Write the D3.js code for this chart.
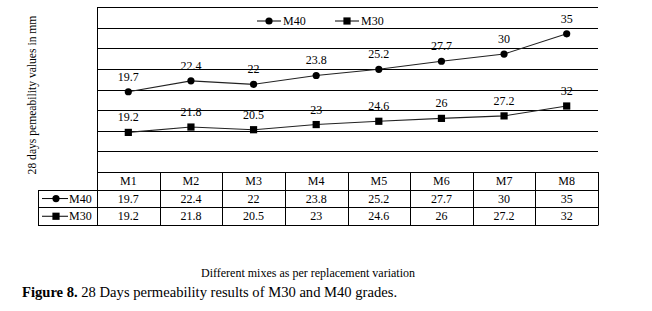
<!DOCTYPE html>
<html>
<head>
<meta charset="utf-8">
<script src="https://cdn.jsdelivr.net/npm/d3@7"></script>
<style>
  body { margin: 0; background: #fff; }
  svg { display: block; font-family: "Liberation Serif", "Times New Roman", serif; }
</style>
</head>
<body>
<div id="wrapper"></div>
<script>
const mixes = ["M1", "M2", "M3", "M4", "M5", "M6", "M7", "M8"];
const m40 = [19.7, 22.4, 22, 23.8, 25.2, 27.7, 30, 35];
const m30 = [19.2, 21.8, 20.5, 23, 24.6, 26, 27.2, 32];
const seriesNames = ["M40", "M30"];
const yTicks = [0, 10, 20, 30, 40, 50, 60, 70, 80];

function buildPlot() {
    var dimension = {
        width: 652,
        height: 311,
        margin: { top: 7, left: 97, right: 54 }
    };
    const plotBottom = 172;
    const rowH = 17.7;
    const tableLeft = 38;

    const svg = d3.select("#wrapper").append("svg")
        .attr("width", dimension.width)
        .attr("height", dimension.height);

    // rows for the stacked series (M30 at the bottom, M40 on top)
    const rows = mixes.map((m, i) => ({ mix: m, M30: m30[i], M40: m40[i] }));
    const stacked = d3.stack().keys(["M30", "M40"])(rows);

    const xScaler = d3.scaleBand()
        .domain(mixes)
        .range([dimension.margin.left, dimension.width - dimension.margin.right]);
    const yScaler = d3.scaleLinear()
        .domain([0, 80])
        .range([plotBottom, dimension.margin.top]);

    const xMid = d => xScaler(d) + xScaler.bandwidth() / 2;
    const x0 = xScaler.range()[0], x1 = xScaler.range()[1];

    // gridlines
    svg.append("g").selectAll("line")
        .data(yTicks)
        .join("line")
        .attr("x1", x0).attr("x2", x1)
        .attr("y1", d => Math.round(yScaler(d)) + 0.5)
        .attr("y2", d => Math.round(yScaler(d)) + 0.5)
        .attr("stroke", "#000");

    // left border of plot & table
    svg.append("line")
        .attr("x1", x0 + 0.5).attr("x2", x0 + 0.5)
        .attr("y1", dimension.margin.top).attr("y2", plotBottom + rowH * 3)
        .attr("stroke", "#000");

    // data table
    const table = svg.append("g");
    const rowY = i => Math.round(plotBottom + rowH * i) + 0.5;
    [1, 2, 3].forEach(i => {
        table.append("line")
            .attr("x1", tableLeft).attr("x2", x1)
            .attr("y1", rowY(i)).attr("y2", rowY(i))
            .attr("stroke", "#000");
    });
    table.append("line")
        .attr("x1", tableLeft + 0.5).attr("x2", tableLeft + 0.5)
        .attr("y1", rowY(1)).attr("y2", rowY(3))
        .attr("stroke", "#000");
    table.selectAll(".sep")
        .data(mixes)
        .join("line")
        .attr("x1", d => Math.round(xScaler(d) + xScaler.bandwidth()) + 0.5)
        .attr("x2", d => Math.round(xScaler(d) + xScaler.bandwidth()) + 0.5)
        .attr("y1", plotBottom).attr("y2", rowY(3))
        .attr("stroke", "#000");

    table.selectAll(".head")
        .data(mixes)
        .join("text")
        .attr("x", d => xMid(d))
        .attr("y", plotBottom + rowH * 0.5 + 4)
        .attr("text-anchor", "middle")
        .attr("font-size", 12)
        .text(d => d);

    const tableRows = [m40, m30];
    tableRows.forEach((vals, r) => {
        table.selectAll(".val" + r)
            .data(vals)
            .join("text")
            .attr("x", (d, i) => xMid(mixes[i]))
            .attr("y", plotBottom + rowH * (r + 1.5) + 4)
            .attr("text-anchor", "middle")
            .attr("font-size", 12)
            .text(d => d);
    });

    // marker helper
    function marker(g, name, cx, cy) {
        if (name === "M40") {
            g.append("circle").attr("cx", cx).attr("cy", cy).attr("r", 3.6).attr("fill", "#000");
        } else {
            g.append("rect").attr("x", cx - 3.6).attr("y", cy - 3.6)
                .attr("width", 7.2).attr("height", 7.2).attr("fill", "#000");
        }
    }

    // legend keys in the table
    seriesNames.forEach((name, r) => {
        const cy = plotBottom + rowH * (r + 1.5);
        const g = table.append("g");
        g.append("line").attr("x1", 42).attr("x2", 68)
            .attr("y1", cy).attr("y2", cy).attr("stroke", "#000");
        marker(g, name, 56, cy);
        g.append("text").attr("x", 69).attr("y", cy + 4)
            .attr("font-size", 12).text(name);
    });

    // lines and markers
    const lineGenerator = d3.line()
        .x(d => xMid(d.data.mix))
        .y(d => yScaler(d[1]));

    stacked.forEach(layer => {
        const name = layer.key;
        const vals = name === "M40" ? m40 : m30;
        svg.append("path")
            .attr("d", lineGenerator(layer))
            .attr("fill", "none")
            .attr("stroke", "#222")
            .attr("stroke-width", 1.1);
        const g = svg.append("g");
        layer.forEach(d => marker(g, name, xMid(d.data.mix), yScaler(d[1])));
        g.selectAll("text")
            .data(layer)
            .join("text")
            .attr("x", d => xMid(d.data.mix))
            .attr("y", d => yScaler(d[1]) - 11)
            .attr("text-anchor", "middle")
            .attr("font-size", 12)
            .text((d, i) => vals[i]);
    });

    // top legend
    const legend = svg.append("g");
    const legendX = [257, 335];
    seriesNames.forEach((name, i) => {
        const lx = legendX[i], ly = 21;
        legend.append("rect").attr("x", lx - 2).attr("y", ly - 7)
            .attr("width", 54).attr("height", 12).attr("fill", "#fff");
        legend.append("line").attr("x1", lx).attr("x2", lx + 24)
            .attr("y1", ly).attr("y2", ly).attr("stroke", "#000");
        marker(legend, name, lx + 12, ly);
        legend.append("text").attr("x", lx + 26).attr("y", ly + 4)
            .attr("font-size", 12).text(name);
    });

    // axis titles
    svg.append("text")
        .attr("transform", "translate(36,95) rotate(-90)")
        .attr("text-anchor", "middle")
        .attr("font-size", 11.6)
        .text("28 days pemeability values in mm");

    svg.append("text")
        .attr("x", 308).attr("y", 277)
        .attr("text-anchor", "middle")
        .attr("font-size", 12)
        .text("Different mixes as per replacement variation");

    const cap = svg.append("text")
        .attr("x", 22).attr("y", 297)
        .attr("font-size", 14.6);
    cap.append("tspan").attr("font-weight", "bold").text("Figure 8.");
    cap.append("tspan").text(" 28 Days permeability results of M30 and M40 grades.");
}
buildPlot();
</script>
</body>
</html>
